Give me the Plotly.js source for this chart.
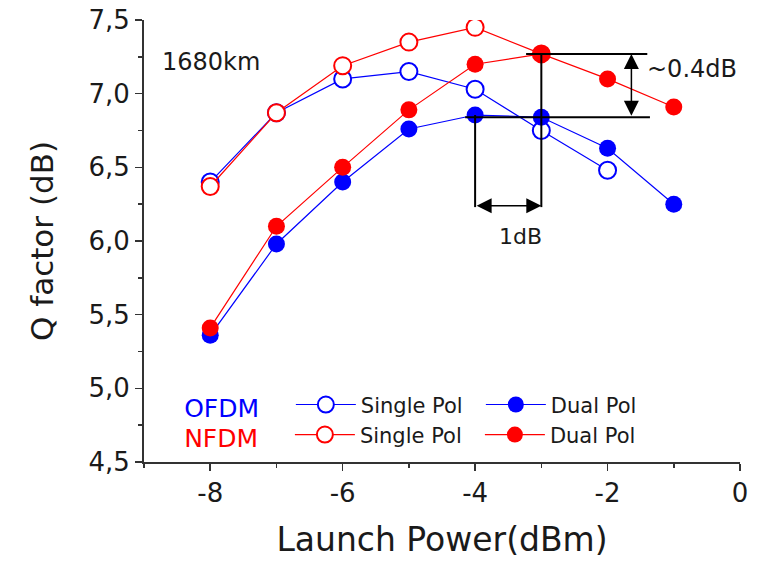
<!DOCTYPE html>
<html><head><meta charset="utf-8">
<script src="https://cdn.plot.ly/plotly-3.0.1.min.js"></script>
<style>html,body{margin:0;padding:0;background:#fff}</style>
</head><body><div id="chart" style="width:764px;height:563px"></div>
<script>
const launchPower = [-8, -7, -6, -5, -4, -3, -2, -1];
const ofdmSingle = [6.40, 6.87, 7.10, 7.15, 7.03, 6.75, 6.48];
const nfdmSingle = [6.37, 6.87, 7.19, 7.35, 7.45, 7.27];
const ofdmDual = [5.36, 5.98, 6.40, 6.76, 6.855, 6.84, 6.63, 6.25];
const nfdmDual = [5.41, 6.10, 6.50, 6.89, 7.20, 7.27, 7.10, 6.91];
const xTickVals = [-8, -6, -4, -2, 0];
const xTickText = ['-8', '-6', '-4', '-2', '0'];
const seriesLabels = ['Single Pol', 'Dual Pol'];
const groupLabels = ['OFDM', 'NFDM'];

const FONT = 'DejaVu Sans, Liberation Sans, Arial, sans-serif';
const BLUE = '#0000ff', RED = '#ff0000', INK = '#1a1a1a', AX = '#333333';

function openTrace(y, color, legend) {
  return {x: launchPower.slice(0, y.length), y: y, mode: 'lines+markers', name: seriesLabels[0],
    legend: legend, line: {color: color, width: 1.2},
    marker: {symbol: 'circle', size: 17, color: '#ffffff', line: {color: color, width: 2}}};
}
function filledTrace(y, color, legend) {
  return {x: launchPower.slice(0, y.length), y: y, mode: 'lines+markers', name: seriesLabels[1],
    legend: legend, line: {color: color, width: 1.2},
    marker: {symbol: 'circle', size: 17, color: color, line: {width: 0}}};
}

const data = [
  openTrace(ofdmSingle, BLUE, 'legend'),
  openTrace(nfdmSingle, RED, 'legend2'),
  filledTrace(ofdmDual, BLUE, 'legend'),
  filledTrace(nfdmDual, RED, 'legend2')
];

const GAP = '\u00a0\u00a0\u00a0';
function legendCfg(label, color, y) {
  return {title: {text: label + GAP, side: 'left', font: {family: FONT, size: 25, color: color}},
    orientation: 'h', x: 0.064, y: y, xanchor: 'left', yanchor: 'middle',
    itemwidth: 60, entrywidth: 115, font: {family: FONT, size: 21, color: INK},
    bgcolor: 'rgba(0,0,0,0)', borderwidth: 0, traceorder: 'normal'};
}

const blackLine = {color: '#000000', width: 2};
const layout = {
  width: 764, height: 563,
  margin: {l: 144, r: 24, t: 20, b: 101},
  paper_bgcolor: '#ffffff', plot_bgcolor: '#ffffff',
  separators: ',.',
  font: {family: FONT, color: INK},
  showlegend: true,
  xaxis: {range: [-9, 0], tickmode: 'array', tickvals: xTickVals, ticktext: xTickText,
    ticks: 'outside', ticklen: 7, tickwidth: 1.5, tickcolor: AX,
    showline: true, linecolor: AX, linewidth: 2, showgrid: false, zeroline: false,
    minor: {tickmode: 'linear', tick0: 0, dtick: 1, ticks: 'outside', ticklen: 4, tickwidth: 1.5, tickcolor: AX, showgrid: false},
    tickfont: {family: FONT, size: 26, color: INK},
    title: {text: 'Launch Power(dBm)', font: {family: FONT, size: 33, color: INK}, standoff: 21}},
  yaxis: {range: [4.5, 7.5], tick0: 4.5, dtick: 0.5, tickformat: '.1f',
    ticks: 'outside', ticklen: 7, tickwidth: 1.5, tickcolor: AX,
    showline: true, linecolor: AX, linewidth: 2, showgrid: false, zeroline: false,
    minor: {tick0: 4.5, dtick: 0.25, ticks: 'outside', ticklen: 4, tickwidth: 1.5, tickcolor: AX, showgrid: false},
    tickfont: {family: FONT, size: 26, color: INK},
    title: {text: 'Q factor (dB)', font: {family: FONT, size: 31, color: INK}, standoff: 26}},
  xaxis2: {overlaying: 'x', side: 'top', anchor: 'y', range: [-9, 0], tick0: 0, dtick: 1,
    ticks: 'inside', ticklen: 6, tickwidth: 1.5, tickcolor: AX, showticklabels: false,
    showline: true, linecolor: AX, linewidth: 2, showgrid: false, zeroline: false},
  yaxis2: {overlaying: 'y', side: 'right', anchor: 'x', range: [4.5, 7.5], tick0: 4.5, dtick: 0.25,
    ticks: 'inside', ticklen: 6, tickwidth: 1.5, tickcolor: AX, showticklabels: false,
    showline: true, linecolor: AX, linewidth: 2, showgrid: false, zeroline: false},
  legend: legendCfg(groupLabels[0], BLUE, 0.127),
  legend2: legendCfg(groupLabels[1], RED, 0.059),
  shapes: [
    {type: 'line', xref: 'x', yref: 'y', x0: -4, x1: -4, y0: 6.855, y1: 6.23, line: blackLine},
    {type: 'line', xref: 'x', yref: 'y', x0: -3, x1: -3, y0: 7.27, y1: 6.23, line: blackLine},
    {type: 'line', xref: 'x', yref: 'y', x0: -3.23, x1: -1.40, y0: 7.27, y1: 7.27, line: blackLine},
    {type: 'line', xref: 'x', yref: 'y', x0: -4.15, x1: -1.36, y0: 6.84, y1: 6.84, line: blackLine}
  ],
  annotations: [
    {x: -7.99, y: 7.215, xref: 'x', yref: 'y', text: '1680km', showarrow: false,
      font: {family: FONT, size: 24, color: INK}},
    {x: -0.72, y: 7.17, xref: 'x', yref: 'y', text: '~0.4dB', showarrow: false,
      font: {family: FONT, size: 24, color: INK}},
    {x: -3.32, y: 6.03, xref: 'x', yref: 'y', text: '1dB', showarrow: false,
      font: {family: FONT, size: 22, color: INK}},
    {x: -3, y: 6.24, ax: -4, ay: 6.24, xref: 'x', yref: 'y', axref: 'x', ayref: 'y', text: '',
      showarrow: true, arrowhead: 2, arrowside: 'end+start', arrowsize: 2, arrowwidth: 1.5,
      arrowcolor: '#000000', standoff: 0, startstandoff: 0},
    {x: -1.64, y: 7.27, ax: -1.64, ay: 6.84, xref: 'x', yref: 'y', axref: 'x', ayref: 'y', text: '',
      showarrow: true, arrowhead: 2, arrowside: 'end+start', arrowsize: 2, arrowwidth: 1.5,
      arrowcolor: '#000000', standoff: 0, startstandoff: 0}
  ]
};

Plotly.newPlot('chart', data, layout, {displayModeBar: false, staticPlot: true});
</script>
</body></html>
